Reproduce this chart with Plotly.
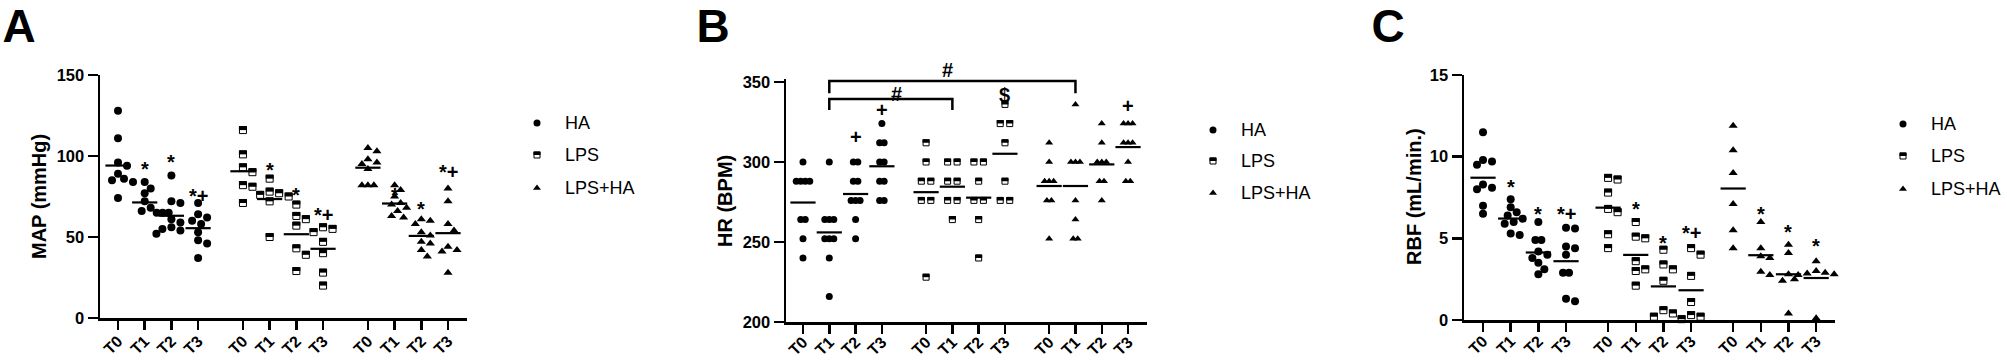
import math
import numpy as np
import plotly.graph_objects as go

W, H = 2007, 360
FONT = "Liberation Sans, Arial, Helvetica, sans-serif"

TIMES = ["T0", "T1", "T2", "T3"]
GROUPS = ["HA", "LPS", "LPS+HA"]

# ---------------- Panel A: MAP (mmHg) ----------------
MAP_HA = [[128, 111, 96, 94, 89, 86, 85, 84, 74],
          [84, 80, 77, 72, 68, 66, 65, 65, 65],
          [88, 72, 71, 61, 59, 56, 55, 54, 52],
          [71, 64, 62, 60, 58, 53, 48, 46, 37]]
MAP_LPS = [[116, 101, 93, 90, 82, 81, 71],
           [86, 78, 77, 76, 75, 72, 50],
           [70, 63, 61, 57, 43, 39, 29],
           [56, 55, 53, 47, 40, 28, 20]]
MAP_LPSHA = [[105, 103, 98, 96, 95, 92, 82, 82, 82],
             [82, 79, 75, 71, 70, 68, 66, 63, 62],
             [61, 60, 58, 53, 51, 47, 46, 42, 38],
             [80, 72, 58, 54, 44, 42, 41, 28]]
MAP_SIG = [(0, 1, 94, "*"), (0, 2, 98, "*"), (0, 3, 77, "*+"),
           (1, 1, 93.5, "*"), (1, 2, 78, "*"), (1, 3, 65.7, "*+"),
           (2, 1, 78, "*"), (2, 2, 69, "*"), (2, 3, 91.8, "*+")]

# ---------------- Panel B: HR (BPM) ----------------
HR_HA = [[300, 288, 288, 288, 288, 264, 264, 252, 240],
         [300, 264, 264, 264, 252, 252, 252, 240, 216],
         [300, 300, 288, 288, 276, 276, 276, 264, 252],
         [324, 312, 312, 300, 300, 288, 288, 276, 276]]
HR_LPS = [[312, 300, 288, 288, 276, 276, 228],
          [300, 300, 288, 288, 276, 276, 264],
          [300, 300, 288, 276, 276, 264, 240],
          [336, 324, 324, 312, 288, 276, 276]]
HR_LPSHA = [[312, 300, 288, 288, 288, 276, 276, 252],
            [336, 300, 300, 300, 276, 264, 252, 252],
            [324, 312, 300, 300, 300, 288, 288, 276],
            [324, 324, 324, 312, 312, 312, 300, 288, 288]]
HR_SIG = [(0, 2, 315.6, "+"), (0, 3, 332.5, "+"), (1, 3, 341.7, "$"), (2, 3, 335, "+")]
# brackets: (group_a, time_a, group_b, time_b, y_top, y_bottom, label, label_x, label_y)
HR_BRACKETS = [(0, 1, 2, 1, 350.6, 343.0, "#", 5.51, 357.5),
               (0, 1, 1, 1, 339.4, 332.5, "#", 3.57, 342.5)]

# ---------------- Panel C: RBF (mL/min.) ----------------
RBF_HA = [[11.5, 9.8, 9.7, 9.5, 8.3, 8.1, 8.0, 7.0, 6.5],
          [7.4, 6.9, 6.6, 6.4, 6.2, 6.0, 5.9, 5.3, 5.2],
          [6.0, 4.9, 4.9, 4.2, 4.0, 3.8, 3.5, 3.1, 2.8],
          [5.65, 5.6, 4.5, 4.4, 4.0, 2.9, 2.9, 1.3, 1.15]]
RBF_LPS = [[8.7, 8.6, 7.8, 6.8, 6.6, 5.25, 4.4],
           [6.0, 5.1, 5.0, 3.6, 3.1, 3.0, 2.1],
           [4.3, 3.4, 3.1, 2.4, 0.6, 0.4, 0.2],
           [4.4, 4.0, 2.7, 1.1, 0.3, 0.2, 0.05]]
RBF_LPSHA = [[11.9, 10.4, 9.0, 7.1, 5.5, 4.4],
             [6.0, 4.4, 3.9, 3.8, 2.95, 2.75],
             [4.6, 4.1, 2.8, 2.5, 2.4, 0.4],
             [3.6, 3.0, 2.9, 2.85, 2.8, 2.75, 0.1]]
RBF_SIG = [(0, 1, 8.3, "*"), (0, 2, 6.7, "*"), (0, 3, 6.7, "*+"),
           (1, 1, 7.0, "*"), (1, 2, 4.9, "*"), (1, 3, 5.5, "*+"),
           (2, 1, 6.7, "*"), (2, 2, 5.6, "*"), (2, 3, 4.7, "*")]

Y_TICKS_A = [0, 50, 100, 150]
Y_TICKS_B = [200, 250, 300, 350]
Y_TICKS_C = [0, 5, 10, 15]

# ---------------- layout geometry (pixels) ----------------
PANELS = [
    dict(name="A", data=[MAP_HA, MAP_LPS, MAP_LPSHA], sig=MAP_SIG, brackets=[],
         xs="", px=(100, 467), py=(75, 318), yr=(0, 150), gap=1.68, x0=-0.674, pxx=26.7,
         yticks=Y_TICKS_A, title="MAP (mmHg)", title_xy=(39, 197), letter_xy=(19, 30),
         leg_x=537, leg_y=(123, 155, 188), msize=8, lab_off=-4),
    dict(name="B", data=[HR_HA, HR_LPS, HR_LPSHA], sig=HR_SIG, brackets=HR_BRACKETS,
         xs="2", px=(786, 1147), py=(78.8, 322), yr=(200, 352), gap=1.68, x0=-0.646, pxx=26.3,
         yticks=Y_TICKS_B, title="HR (BPM)", title_xy=(725, 201), letter_xy=(713, 30),
         leg_x=1213, leg_y=(130, 161, 193), msize=7, lab_off=-7),
    dict(name="C", data=[RBF_HA, RBF_LPS, RBF_LPSHA], sig=RBF_SIG, brackets=[],
         xs="3", px=(1464, 1835), py=(75, 320), yr=(0, 15), gap=1.52, x0=-0.687, pxx=27.67,
         yticks=Y_TICKS_C, title="RBF (mL/min.)", title_xy=(1414, 197), letter_xy=(1388, 30),
         leg_x=1903, leg_y=(124, 156, 189), msize=8, lab_off=-6),
]


def swarm(vals, pxy, d, step):
    """Return horizontal pixel offsets for a column of points (simple beeswarm)."""
    offs = [0.0] * len(vals)
    placed = []
    for u in sorted(set(vals), reverse=True):
        idx = [i for i, v in enumerate(vals) if v == u]
        k = len(idx)
        base = [(j - (k - 1) / 2) * step for j in range(k)]
        cands = [0.0]
        for m in range(1, 20):
            cands += [m * step / 2, -m * step / 2]
        chosen = base
        for c in cands:
            trial = [b + c for b in base]
            ok = all(math.hypot(t - px, (u - pv) * pxy) >= d
                     for t in trial for (px, pv) in placed)
            if ok:
                chosen = trial
                break
        for i, t in zip(idx, chosen):
            offs[i] = t
            placed.append((t, u))
    return offs


fig = go.Figure()
shapes = []
annotations = []
layout_axes = {}

for P in PANELS:
    xs = P["xs"]
    xa, ya = "x" + xs, "y" + xs
    pw = P["px"][1] - P["px"][0]
    ph = P["py"][1] - P["py"][0]
    gap = P["gap"]
    pos = [g * (3 + gap) + t for g in range(3) for t in range(4)]
    pxx = P["pxx"]
    x1 = P["x0"] + pw / pxx
    pxy = ph / (P["yr"][1] - P["yr"][0])

    for g, series in enumerate(P["data"]):
        xv, yv = [], []
        mx, my = [], []
        for t, vals in enumerate(series):
            cx = pos[g * 4 + t]
            if g == 1:
                d, step = 9.5, 9.5
            else:
                d, step = (6.5, 4.5) if P["name"] == "B" else (7.5, 6)
            offs = swarm(vals, pxy, d, step)
            for v, o in zip(vals, offs):
                xv.append(cx + o / pxx)
                yv.append(v)
            mx.append(cx)
            my.append(float(np.mean(vals)))
        s = P["msize"]
        if g == 0:
            mk = dict(symbol="circle", size=s, color="black", line=dict(width=0))
        elif g == 1:
            mk = dict(symbol="square", size=s - 1, color="white",
                      line=dict(width=1, color="black"))
        else:
            mk = dict(symbol="triangle-up", size=s, color="black", line=dict(width=0))
        fig.add_trace(go.Scatter(x=xv, y=yv, mode="markers", marker=mk, xaxis=xa, yaxis=ya,
                                 cliponaxis=False, showlegend=False, hoverinfo="skip"))
        if g == 1:
            hs = (s - 1) / 2 + 0.5
            for xx, yy in zip(xv, yv):
                shapes.append(dict(type="rect", xref=xa, yref=ya, xsizemode="pixel",
                                   ysizemode="pixel", xanchor=xx, yanchor=yy,
                                   x0=-hs, x1=hs, y0=0, y1=hs, fillcolor="black",
                                   line=dict(width=0), layer="above"))
        fig.add_trace(go.Scatter(x=mx, y=my, mode="markers",
                                 marker=dict(symbol="line-ew", size=18,
                                             line=dict(width=2.2, color="black")),
                                 xaxis=xa, yaxis=ya, cliponaxis=False,
                                 showlegend=False, hoverinfo="skip"))

    for (g, t, yv_, txt) in P["sig"]:
        annotations.append(dict(x=pos[g * 4 + t], y=yv_, xref=xa, yref=ya, text=txt,
                                showarrow=False, xanchor="center", yanchor="middle",
                                yshift=-3 if txt.startswith("*") else 0,
                                font=dict(family=FONT, size=20, color="black", weight="bold")))
    y0r, y1r = P["yr"]
    for (ga, ta, gb, tb, ytop, ybot, lab, lx, ly) in P["brackets"]:
        xa_ = pos[ga * 4 + ta]
        xb_ = pos[gb * 4 + tb]
        shapes.append(dict(type="path", xref=xa, yref=ya,
                           path=f"M {xa_},{ybot} L {xa_},{ytop} L {xb_},{ytop} L {xb_},{ybot}",
                           line=dict(width=2.5, color="black"), layer="above"))
        # label position converted from data value to paper fraction
        ly_px = P["py"][1] - (ly - y0r) * pxy
        annotations.append(dict(x=lx, y=1 - ly_px / H, xref=xa, yref="paper", text=lab,
                                showarrow=False, xanchor="center", yanchor="middle",
                                font=dict(family=FONT, size=20, color="black", weight="bold")))

    layout_axes["xaxis" + xs] = dict(
        domain=[P["px"][0] / W, P["px"][1] / W], anchor=ya, range=[P["x0"], x1],
        showgrid=False, zeroline=False, showline=True, linecolor="black", linewidth=2.5,
        ticks="outside", ticklen=9, tickwidth=2.5, tickcolor="black",
        tickvals=pos, ticktext=TIMES * 3, tickangle=-45, ticklabelstandoff=P["lab_off"],
        tickfont=dict(family=FONT, size=16, color="black", weight="bold"),
        fixedrange=True, automargin=False)
    layout_axes["yaxis" + xs] = dict(
        domain=[1 - P["py"][1] / H, 1 - P["py"][0] / H], anchor=xa, range=list(P["yr"]),
        showgrid=False, zeroline=False, showline=True, linecolor="black", linewidth=2.5,
        ticks="outside", ticklen=10, tickwidth=2.5, tickcolor="black",
        tickvals=P["yticks"],
        tickfont=dict(family=FONT, size=16.5, color="black", weight="bold"),
        fixedrange=True, automargin=False)

    # y-axis title
    annotations.append(dict(x=P["title_xy"][0], y=P["title_xy"][1], xref="x4", yref="y4",
                            text=P["title"], textangle=-90, showarrow=False,
                            xanchor="center", yanchor="middle",
                            font=dict(family=FONT, size=20, color="black", weight="bold")))
    # panel letter (scatter text so it does not push margins)
    fig.add_trace(go.Scatter(x=[P["letter_xy"][0]], y=[P["letter_xy"][1]], mode="text",
                             text=[P["name"]], textposition="middle center",
                             textfont=dict(family=FONT, size=46, color="black", weight="bold"),
                             xaxis="x4", yaxis="y4", cliponaxis=False,
                             showlegend=False, hoverinfo="skip"))
    # legend
    lx = P["leg_x"]
    for g, lyy in enumerate(P["leg_y"]):
        if g == 0:
            mk = dict(symbol="circle", size=7, color="black")
        elif g == 1:
            mk = dict(symbol="square", size=6, color="white", line=dict(width=1, color="black"))
        else:
            mk = dict(symbol="triangle-up", size=7, color="black")
        fig.add_trace(go.Scatter(x=[lx], y=[lyy], mode="markers", marker=mk,
                                 xaxis="x4", yaxis="y4", cliponaxis=False,
                                 showlegend=False, hoverinfo="skip"))
        if g == 1:
            shapes.append(dict(type="rect", xref="x4", yref="y4", xsizemode="pixel",
                               ysizemode="pixel", xanchor=lx, yanchor=lyy,
                               x0=-3.5, x1=3.5, y0=0, y1=3.5, fillcolor="black",
                               line=dict(width=0), layer="above"))
        annotations.append(dict(x=lx + 26, y=lyy, xref="x4", yref="y4", text=GROUPS[g],
                                showarrow=False, xanchor="left", yanchor="middle",
                                font=dict(family=FONT, size=18, color="black")))

layout_axes["xaxis4"] = dict(domain=[0, 1], anchor="y4", range=[0, W], visible=False,
                             fixedrange=True)
layout_axes["yaxis4"] = dict(domain=[0, 1], anchor="x4", range=[H, 0], visible=False,
                             fixedrange=True)

fig.update_layout(
    width=W, height=H, margin=dict(l=0, r=0, t=0, b=0, pad=0, autoexpand=False),
    paper_bgcolor="white", plot_bgcolor="rgba(0,0,0,0)",
    font=dict(family=FONT, color="black"),
    shapes=shapes, annotations=annotations, showlegend=False,
    **layout_axes)

fig.write_html("out.html",
               config={"displayModeBar": False, "staticPlot": True},
               post_script="document.body.style.margin='0px';"
                           "document.body.style.overflow='hidden';")
